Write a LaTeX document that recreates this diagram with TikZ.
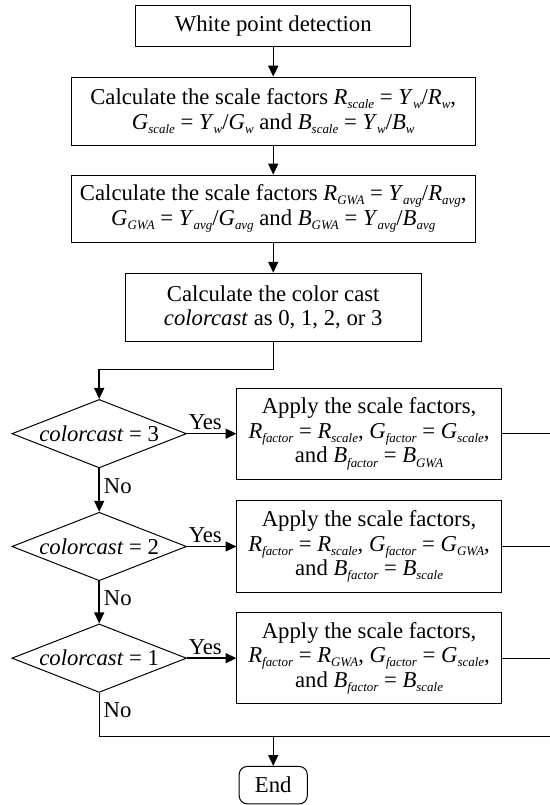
\documentclass[tikz,border=0pt]{standalone}
\usepackage{fontspec}
\setmainfont{Liberation Serif}
\usetikzlibrary{arrows.meta, shapes.geometric}

% italic letter with a small italic index, as the reference sets them
\newcommand{\vsub}[2]{\textit{#1}\raisebox{-.4ex}{\fontsize{6.5}{7}\selectfont\itshape #2}}

\tikzset{
    every node/.style={font=\fontsize{11.4}{12.4}\selectfont},
    procbox/.style={draw, line width=.5pt, align=center, inner sep=1pt},
    choice/.style={diamond, draw, line width=.5pt, aspect=2.55, inner sep=1pt, minimum width=3.02cm, minimum height=1.18cm},
    endbox/.style={draw, line width=.5pt, rounded corners=4pt, minimum width=1.2cm, minimum height=.66cm},
    flow/.style={-{Triangle[length=5.5pt,width=5pt]}, line width=.75pt},
    plain/.style={line width=.5pt},
}

\begin{document}
\begin{tikzpicture}
        \useasboundingbox (0,0) rectangle (9.70,-14.20);

        \node[procbox, minimum width=4.85cm, minimum height=.71cm] at (4.82,-.46) (detect) {White point detection};
        \node[procbox, minimum width=7.13cm, minimum height=1.2cm] at (4.82,-1.96) (white) {Calculate the scale factors \vsub{R}{scale} = \vsub{Y}{w}/\vsub{R}{w},\\ \vsub{G}{scale} = \vsub{Y}{w}/\vsub{G}{w} and \vsub{B}{scale} = \vsub{Y}{w}/\vsub{B}{w}};
        \node[procbox, minimum width=7.13cm, minimum height=1.18cm] at (4.82,-3.68) (gwa) {Calculate the scale factors \vsub{R}{GWA} = \vsub{Y}{avg}/\vsub{R}{avg},\\ \vsub{G}{GWA} = \vsub{Y}{avg}/\vsub{G}{avg} and \vsub{B}{GWA} = \vsub{Y}{avg}/\vsub{B}{avg}};
        \node[procbox, minimum width=5.22cm, minimum height=1.2cm] at (4.82,-5.42) (cast) {Calculate the color cast\\ \textit{colorcast} as 0, 1, 2, or 3};

        \node[choice] at (1.75,-7.65) (three) {\textit{colorcast} = 3};
        \node[choice] at (1.75,-9.64) (two) {\textit{colorcast} = 2};
        \node[choice] at (1.75,-11.61) (one) {\textit{colorcast} = 1};

        \node[procbox, minimum width=4.66cm, minimum height=1.61cm] at (6.51,-7.65) (apply3) {Apply the scale factors,\\ \vsub{R}{factor} = \vsub{R}{scale}, \vsub{G}{factor} = \vsub{G}{scale},\\ and \vsub{B}{factor} = \vsub{B}{GWA}};
        \node[procbox, minimum width=4.66cm, minimum height=1.61cm] at (6.51,-9.64) (apply2) {Apply the scale factors,\\ \vsub{R}{factor} = \vsub{R}{scale}, \vsub{G}{factor} = \vsub{G}{GWA},\\ and \vsub{B}{factor} = \vsub{B}{scale}};
        \node[procbox, minimum width=4.66cm, minimum height=1.61cm] at (6.51,-11.61) (apply1) {Apply the scale factors,\\ \vsub{R}{factor} = \vsub{R}{GWA}, \vsub{G}{factor} = \vsub{G}{scale},\\ and \vsub{B}{factor} = \vsub{B}{scale}};

        \node[endbox] at (4.82,-13.85) (stop) {End};

        \coordinate (split) at (4.82,-6.51);
        \coordinate (bend) at (1.75,-6.51);
        \coordinate (nocorner) at (1.75,-13.0);
        \coordinate (join) at (4.82,-13.0);
        \coordinate (outlow) at (9.70,-13.0);
        \coordinate (out3) at (9.70,-7.65);
        \coordinate (out2) at (9.70,-9.64);
        \coordinate (out1) at (9.70,-11.61);

        \draw[flow] (detect) -- (white);
        \draw[flow] (white) -- (gwa);
        \draw[flow] (gwa) -- (cast);
        \draw[plain] (cast) -- (split) -- (bend);
        \draw[flow] (bend) -- (three);

        \draw[flow] (three) -- node[anchor=south west, pos=0, inner sep=.5pt, yshift=1pt] {Yes} (apply3);
        \draw[flow] (two) -- node[anchor=south west, pos=0, inner sep=.5pt, yshift=1pt] {Yes} (apply2);
        \draw[flow] (one) -- node[anchor=south west, pos=0, inner sep=.5pt, yshift=1pt] {Yes} (apply1);

        \draw[flow] (three) -- node[right, pos=.4, inner sep=2pt] {No} (two);
        \draw[flow] (two) -- node[right, pos=.4, inner sep=2pt] {No} (one);
        \draw[plain] (one) -- node[right, pos=.4, inner sep=2pt] {No} (nocorner) -- (outlow);

        \draw[plain] (apply3) -- (out3);
        \draw[plain] (apply2) -- (out2);
        \draw[plain] (apply1) -- (out1);
        \draw[flow] (join) -- (stop);
    \end{tikzpicture}
\end{document}
